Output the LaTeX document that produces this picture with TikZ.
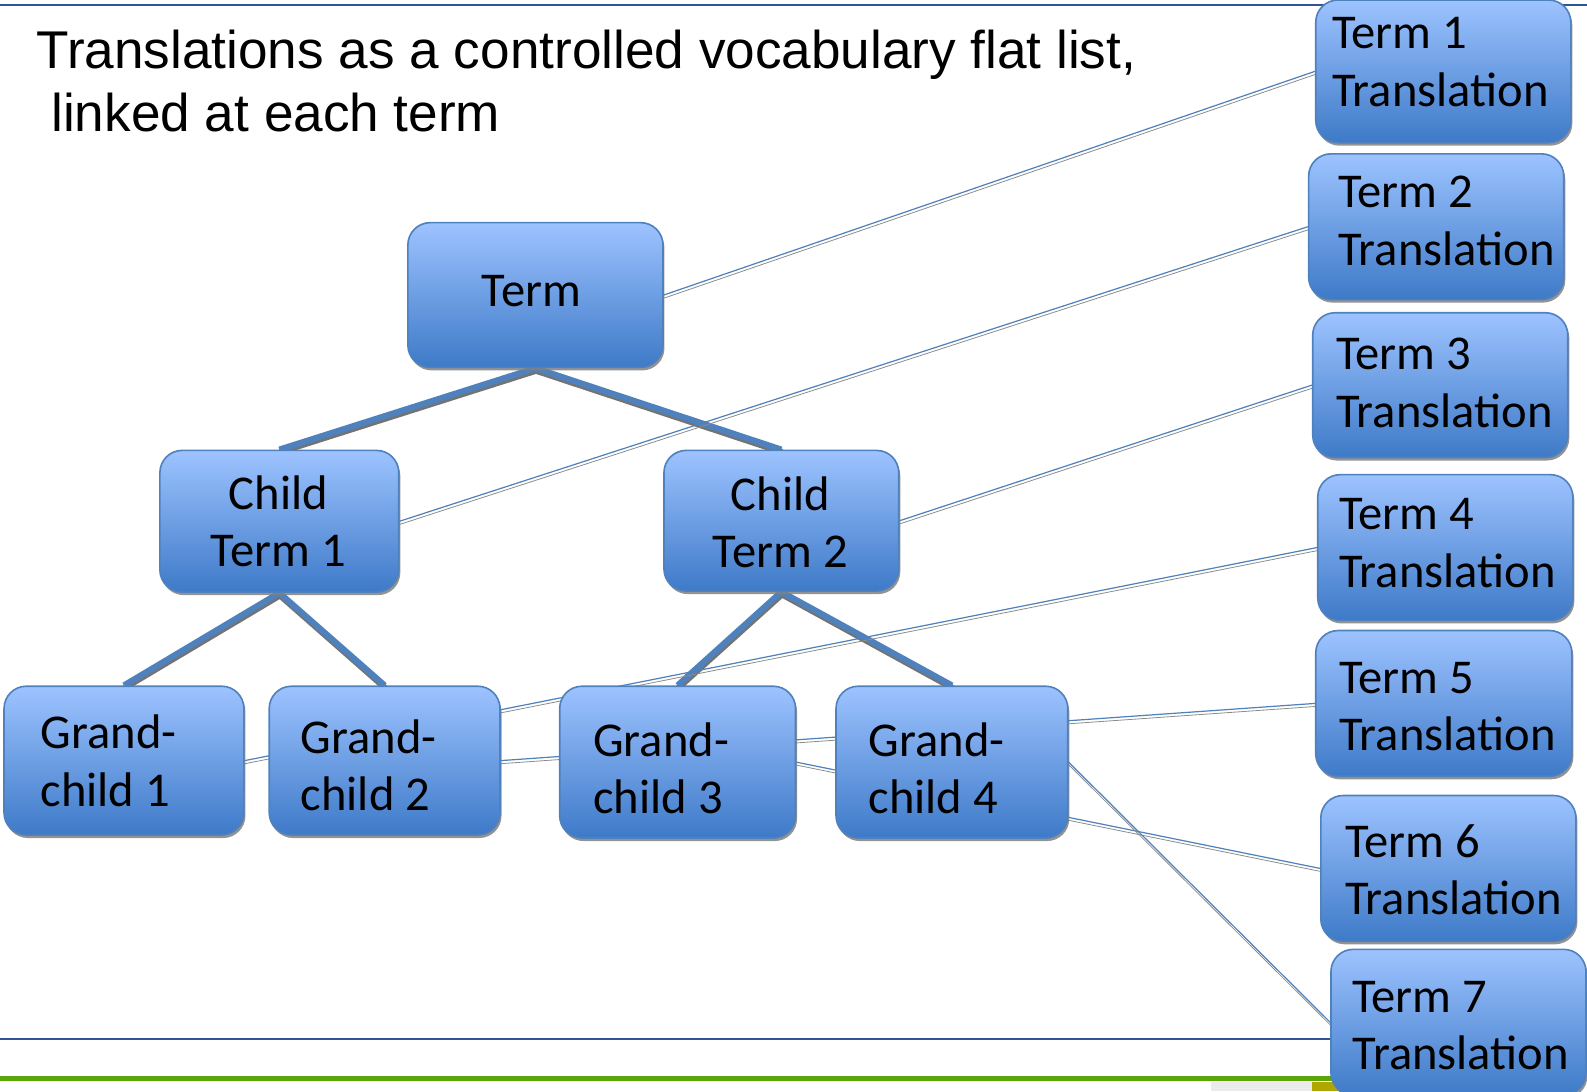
\documentclass[tikz,border=0pt]{standalone}
\usepackage{fontspec}
\setmainfont{Carlito}
\newfontfamily\titlefont{Liberation Sans}
\usetikzlibrary{shadows}
\pgfdeclarelayer{back}
\pgfsetlayers{back,main}

\definecolor{boxline}{RGB}{79,129,189}
\definecolor{boxtop}{RGB}{157,195,255}
\definecolor{boxbot}{RGB}{62,122,200}
\definecolor{rulecol}{RGB}{47,85,151}
\definecolor{rulegreen}{RGB}{90,166,8}

% two-line labels: left aligned / centred, first baseline is the node baseline
\newcommand\stackL[2]{\vtop{\baselineskip=57pt\hbox{#1}\hbox{#2}}}
\newcommand\stackC[2]{\vtop{\baselineskip=57pt\halign{\hfil##\hfil\cr#1\cr#2\cr}}}

\begin{document}
\begin{tikzpicture}[x=1pt,y=-1pt,
  box/.style={draw=boxline, line width=1.6pt, rounded corners=22pt,
    top color=boxtop, bottom color=boxbot, inner sep=0pt,
    drop shadow={shadow xshift=1.5pt, shadow yshift=-3pt, fill=black!50, opacity=0.85}},
  lbl/.style={inner sep=0pt, anchor=base west, text=black, font=\fontsize{48}{57}\selectfont},
  clbl/.style={lbl, anchor=base},
  link/.style={draw=boxline, line width=1.2pt,
    preaction={draw=black!45, line width=0.8pt, transform canvas={xshift=0.5pt,yshift=-3pt}}},
  branch/.style={draw=boxline, line width=6pt,
    preaction={draw=black!55, line width=6pt, transform canvas={xshift=0.6pt,yshift=-2.5pt}}},
]
\useasboundingbox (0,0) rectangle (1568,1078);

% title
\node[inner sep=0pt, anchor=base west, font=\titlefont\fontsize{52.5}{62}\selectfont] (title) at (36,68)
  {\vtop{\baselineskip=62pt\hbox{Translations as a controlled vocabulary flat list,}\hbox{\ linked at each term}}};

% hierarchy boxes
\node[box, minimum width=252pt, minimum height=143pt] (term) at (529,291.5) {};
\node[box, minimum width=236pt, minimum height=140pt] (ct1) at (276,515) {};
\node[box, minimum width=232pt, minimum height=139pt] (ct2) at (772,514.5) {};
\node[box, minimum width=237pt, minimum height=147pt] (gc1) at (122.5,751.5) {};
\node[box, minimum width=228pt, minimum height=147pt] (gc2) at (380,751.5) {};
\node[box, minimum width=233pt, minimum height=150pt] (gc3) at (669.5,753) {};
\node[box, minimum width=229pt, minimum height=150pt] (gc4) at (940.5,753) {};

% translation boxes
\node[box, minimum width=252pt, minimum height=141pt] (t1) at (1426,70.5) {};
\node[box, minimum width=252pt, minimum height=144pt] (t2) at (1419,224) {};
\node[box, minimum width=252pt, minimum height=143pt] (t3) at (1423,380.5) {};
\node[box, minimum width=252pt, minimum height=144pt] (t4) at (1428,541) {};
\node[box, minimum width=253pt, minimum height=144pt] (t5) at (1426.5,695) {};
\node[box, minimum width=252pt, minimum height=144pt] (t6) at (1431,858) {};
\node[box, minimum width=252pt, minimum height=144pt] (t7) at (1441,1010) {};

% labels
\node[clbl] (term-l) at (525,303) {Term};
\node[clbl] (ct1-l) at (275,503) {\stackC{Child}{Term 1}};
\node[clbl] (ct2-l) at (771,504) {\stackC{Child}{Term 2}};
\node[lbl] (gc1-l) at (40,740) {\stackL{Grand-}{child 1}};
\node[lbl] (gc2-l) at (297,744) {\stackL{Grand-}{child 2}};
\node[lbl] (gc3-l) at (586,747) {\stackL{Grand-}{child 3}};
\node[lbl] (gc4-l) at (858,747) {\stackL{Grand-}{child 4}};
\node[lbl] (t1-l) at (1316,48) {\stackL{Term 1}{Translation}};
\node[lbl] (t2-l) at (1322,205) {\stackL{Term 2}{Translation}};
\node[lbl] (t3-l) at (1320,365) {\stackL{Term 3}{Translation}};
\node[lbl] (t4-l) at (1323,523) {\stackL{Term 4}{Translation}};
\node[lbl] (t5-l) at (1323,685) {\stackL{Term 5}{Translation}};
\node[lbl] (t6-l) at (1329,847) {\stackL{Term 6}{Translation}};
\node[lbl] (t7-l) at (1336,1000) {\stackL{Term 7}{Translation}};

\begin{pgfonlayer}{back}
  % slide rules and footer strip
  \draw[rulecol, line width=2pt] (0,5) -- (1568,5);
  \draw[rulecol, line width=2pt] (0,1027) -- (1330,1027);
  \draw[rulegreen, line width=5pt] (0,1066) -- (1330,1066);
  \fill[black!8] (1196,1069) rectangle (1296,1078);
  \fill[olive!70!yellow] (1296,1069) rectangle (1330,1078);

  % tree branches
  \draw[branch] (term.south) -- (ct1.north);
  \draw[branch] (term.south) -- (ct2.north);
  \draw[branch] (ct1.south) -- (gc1.north);
  \draw[branch] (ct1.south) -- (gc2.north);
  \draw[branch] (ct2.south) -- (gc3.north);
  \draw[branch] (ct2.south) -- (gc4.north);

  % links to the translations
  \draw[link] (term.east) -- (t1.west);
  \draw[link] (ct1.east) -- (t2.west);
  \draw[link] (ct2.east) -- (t3.west);
  \draw[link] (gc1.east) -- (t4.west);
  \draw[link] (gc2.east) -- (t5.west);
  \draw[link] (gc3.east) -- (t6.west);
  \draw[link] (gc4.east) -- (t7.west);
\end{pgfonlayer}
\end{tikzpicture}
\end{document}
